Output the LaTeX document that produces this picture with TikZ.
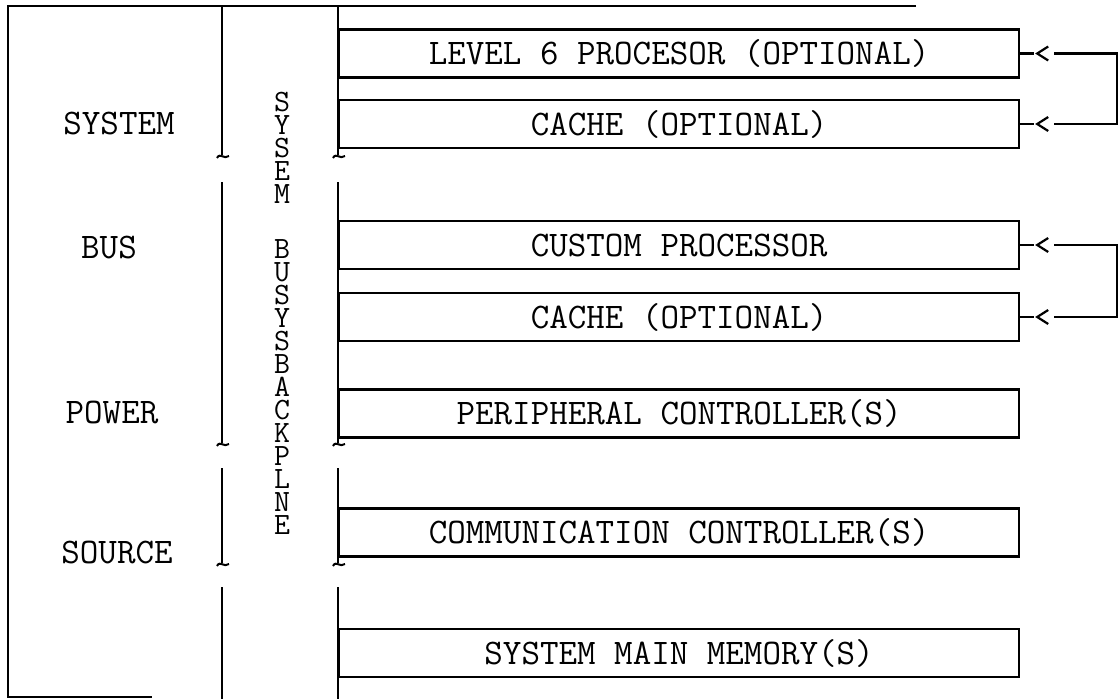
\documentclass[tikz,border=0pt]{standalone}
\usetikzlibrary{calc}

\newcommand{\typewr}{\ttfamily\fontsize{36}{40}\selectfont}
\newcommand{\typestack}{\ttfamily\fontsize{31}{23}\selectfont}

\begin{document}
\begin{tikzpicture} [x=1pt,y=-1pt,
            line width=2.2pt,
            card/.style={draw,rectangle,minimum width=680pt,minimum height=48pt,
                         inner sep=0pt,anchor=west,font=\typewr},
            side/.style={font=\typewr,inner sep=0pt},
            hook/.style={line width=2pt}]

\useasboundingbox (0,0) rectangle (1119,699);

% frame
\coordinate (ftl) at (8,6);
\coordinate (ftr) at (916,6);
\coordinate (fbl) at (8,697);
\coordinate (fbr) at (152,697);
\draw (ftr) -- (ftl) -- (fbl) -- (fbr);

% bus lines, broken in four parts
\foreach \xb in {222,338} {
   \draw (\xb,6)   -- (\xb,155);
   \draw (\xb,182) -- (\xb,443);
   \draw (\xb,468) -- (\xb,563);
   \draw (\xb,587) -- (\xb,699);
   \foreach \yh in {155,443,563} {
      \draw[hook] (\xb-5,\yh+3) .. controls (\xb-2,\yh-3) and (\xb+2,\yh+5) .. (\xb+7,\yh+1);
   }
}

% left labels
\node[side] (sys) at (119,123) {SYSTEM};
\node[side] (bus) at (109,247) {BUS};
\node[side] (pow) at (112,412) {POWER};
\node[side] (src) at (117,552) {SOURCE};

% backplane text
\node[font=\typestack,align=center,inner sep=0pt] (bp) at (282,313)
   {S\\Y\\S\\E\\M\\[32pt]B\\U\\S\\Y\\S\\B\\A\\C\\K\\P\\L\\N\\E};

% boards
\node[card] (l6)  at (338,53.5)  {LEVEL 6 PROCESOR (OPTIONAL)};
\node[card] (ca1) at (338,124)   {CACHE (OPTIONAL)};
\node[card] (cpu) at (338,245)   {CUSTOM PROCESSOR};
\node[card] (ca2) at (338,317)   {CACHE (OPTIONAL)};
\node[card] (per) at (338,413.5) {PERIPHERAL CONTROLLER(S)};
\node[card] (com) at (338,532.5) {COMMUNICATION CONTROLLER(S)};
\node[card] (mem) at (338,653)   {SYSTEM MAIN MEMORY(S)};

% links on the right
\coordinate (lx) at (1117,0);
\foreach \c in {l6,ca1,cpu,ca2} {
   \coordinate (t-\c) at ($(\c.east)+(17,0)$);
   \coordinate (g-\c) at ($(\c.east)+(34,0)$);
   \draw (\c.east) -- ++(14,0);
   \draw ($(t-\c)+(11,-7)$) -- (t-\c) -- ($(t-\c)+(11,7)$);
}
\draw (g-l6) -- (g-l6 -| lx) -- (g-ca1 -| lx) -- (g-ca1);
\draw (g-cpu) -- (g-cpu -| lx) -- (g-ca2 -| lx) -- (g-ca2);

\end{tikzpicture}
\end{document}
